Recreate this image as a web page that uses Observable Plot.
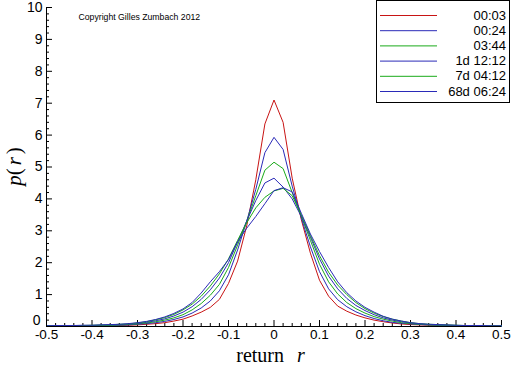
<!DOCTYPE html>
<html>
<head>
<meta charset="utf-8">
<script src="https://cdn.jsdelivr.net/npm/d3@7"></script>
<script src="https://cdn.jsdelivr.net/npm/@observablehq/plot@0.6"></script>
<style>
  html, body { margin: 0; padding: 0; background: #fff; }
  svg { display: block; }
</style>
</head>
<body>
<div id="chart"></div>
<script>
// ---- data ----
const returns = [-0.50,-0.48,-0.46,-0.44,-0.42,-0.40,-0.38,-0.36,-0.34,-0.32,-0.30,-0.28,-0.26,-0.24,-0.22,-0.20,-0.18,-0.16,-0.14,-0.12,-0.10,-0.08,-0.06,-0.04,-0.02,0.00,0.02,0.04,0.06,0.08,0.10,0.12,0.14,0.16,0.18,0.20,0.22,0.24,0.26,0.28,0.30,0.32,0.34,0.36,0.38,0.40,0.42,0.44,0.46,0.48,0.50];

const seriesNames = ["00:03", "00:24", "03:44", "1d 12:12", "7d 04:12", "68d 06:24"];
const seriesColors = ["#c81414", "#2a2ab8", "#1aaa1a", "#2a2ab8", "#1aaa1a", "#2a2ab8"];

const p0003 = [0.01,0.01,0.01,0.01,0.01,0.02,0.02,0.02,0.03,0.04,0.05,0.07,0.09,0.12,0.17,0.23,0.33,0.45,0.60,0.85,1.35,2.05,3.15,4.60,6.35,7.10,6.40,4.65,3.35,2.30,1.45,0.95,0.64,0.48,0.36,0.27,0.20,0.15,0.11,0.08,0.06,0.05,0.04,0.03,0.02,0.02,0.02,0.01,0.01,0.01,0.01];
const p0024 = [0.01,0.01,0.02,0.02,0.02,0.02,0.03,0.03,0.04,0.05,0.07,0.09,0.12,0.16,0.22,0.30,0.42,0.58,0.80,1.12,1.62,2.40,3.30,4.30,5.45,5.93,5.55,4.40,3.40,2.50,1.72,1.18,0.84,0.62,0.46,0.34,0.25,0.18,0.13,0.10,0.08,0.06,0.05,0.04,0.03,0.02,0.02,0.02,0.01,0.01,0.01];
const p0344 = [0.01,0.02,0.02,0.02,0.03,0.03,0.04,0.04,0.05,0.06,0.08,0.11,0.15,0.20,0.27,0.37,0.52,0.72,0.98,1.32,1.85,2.55,3.30,4.10,4.90,5.15,4.95,4.20,3.45,2.70,1.95,1.40,1.02,0.75,0.56,0.42,0.31,0.23,0.17,0.12,0.09,0.07,0.05,0.04,0.03,0.03,0.02,0.02,0.02,0.01,0.01];
const p1d1212 = [0.02,0.02,0.02,0.03,0.03,0.03,0.04,0.05,0.06,0.07,0.09,0.13,0.18,0.24,0.33,0.45,0.62,0.85,1.15,1.52,2.00,2.65,3.30,3.95,4.50,4.65,4.37,4.00,3.45,2.80,2.12,1.58,1.18,0.88,0.66,0.50,0.37,0.27,0.20,0.15,0.11,0.08,0.06,0.05,0.04,0.03,0.03,0.02,0.02,0.02,0.01];
const p7d0412 = [0.02,0.02,0.03,0.03,0.03,0.04,0.04,0.05,0.07,0.08,0.11,0.15,0.21,0.28,0.38,0.52,0.70,0.95,1.27,1.65,2.12,2.70,3.25,3.72,4.05,4.25,4.33,4.10,3.50,2.85,2.22,1.70,1.30,1.00,0.75,0.56,0.42,0.31,0.23,0.17,0.12,0.09,0.07,0.06,0.05,0.04,0.03,0.03,0.03,0.02,0.02];
const p68d0624 = [0.02,0.03,0.03,0.03,0.04,0.04,0.05,0.06,0.07,0.09,0.12,0.16,0.22,0.30,0.41,0.55,0.75,1.05,1.40,1.72,2.10,2.65,3.08,3.45,3.85,4.26,4.35,4.22,3.55,2.90,2.35,1.85,1.40,1.06,0.80,0.60,0.45,0.32,0.23,0.17,0.12,0.09,0.07,0.06,0.05,0.04,0.03,0.03,0.03,0.02,0.02];
const seriesValues = [p0003, p0024, p0344, p1d1212, p7d0412, p68d0624];

const xTicks = [-0.5,-0.4,-0.3,-0.2,-0.1,0,0.1,0.2,0.3,0.4,0.5];
const yTicks = [0,1,2,3,4,5,6,7,8,9,10];
const xDomain = [-0.5, 0.5];
const yDomain = [0, 10];
const xLabel = ["return", "r"];
const yLabel = ["p", "(", "r", ")"];
const copyright = "Copyright Gilles Zumbach 2012";

// ---- build ----
const W = 512, H = 366;
const mL = 46, mR = 11, mT = 7, mB = 40;
const fw = W - mL - mR, fh = H - mT - mB;

const xMinor = d3.range(0, 51).map(i => xDomain[0] + i * 0.02).filter(v => Math.abs(v * 10 - Math.round(v * 10)) > 1e-6);
const yMinor = d3.range(0, 51).map(i => i * 0.2).filter(v => Math.abs(v - Math.round(v)) > 1e-6);

const tables = seriesValues.map((vals, k) => returns.map((r, i) => ({r, p: vals[i], s: seriesNames[k]})));

const svg = Plot.plot({
  width: W, height: H,
  marginLeft: mL, marginRight: mR, marginTop: mT, marginBottom: mB,
  style: {background: "#fff", fontFamily: "'Liberation Sans', Arial, sans-serif"},
  x: {domain: xDomain},
  y: {domain: yDomain},
  marks: [
    Plot.axisX({ticks: xTicks, tickSize: 0, tickPadding: 3, fontSize: 13.5, label: null, tickFormat: d => String(d), fill: "#000"}),
    Plot.axisY({ticks: yTicks.slice(1), tickSize: 0, tickPadding: 4, fontSize: 14, label: null, tickFormat: d => String(d), fill: "#000"}),
    Plot.axisY({ticks: yTicks.slice(0, 1), tickSize: 0, tickPadding: 6, fontSize: 14, dy: -6, label: null, tickFormat: d => String(d), fill: "#000"}),
    // inward ticks
    Plot.ruleX(xTicks, {insetTop: fh - 6, stroke: "#000"}),
    Plot.ruleX(xMinor, {insetTop: fh - 3, stroke: "#000"}),
    Plot.ruleY(yTicks, {insetRight: fw - 6, stroke: "#000"}),
    Plot.ruleY(yMinor, {insetRight: fw - 3, stroke: "#000"}),
    ...tables.map((t, k) => Plot.line(t, {x: "r", y: "p", stroke: seriesColors[k], strokeWidth: 1})),
    Plot.ruleX([xDomain[0]], {stroke: "#000"}),
    Plot.ruleY([yDomain[0]], {stroke: "#000"}),
    Plot.text([copyright], {frameAnchor: "top-left", dx: 32, dy: 6, lineAnchor: "top", textAnchor: "start", fontSize: 8.7, fill: "#000"})
  ]
});

const s = d3.select(svg);
// x axis title
const xt = s.append("text")
  .attr("x", mL + fw / 2 - 3).attr("y", 362)
  .attr("text-anchor", "middle")
  .attr("font-family", "'Liberation Serif', 'Times New Roman', serif")
  .attr("font-size", 20).attr("fill", "#000");
xt.append("tspan").text(xLabel[0]);
xt.append("tspan").attr("dx", 13).attr("font-style", "italic").text(xLabel[1]);

// y axis title
const yt = s.append("text")
  .attr("transform", `translate(21,${mT + fh / 2}) rotate(-90)`)
  .attr("text-anchor", "middle")
  .attr("font-family", "'Liberation Serif', 'Times New Roman', serif")
  .attr("font-size", 21).attr("fill", "#000");
yt.append("tspan").attr("font-style", "italic").text(yLabel[0]);
yt.append("tspan").text(yLabel[1]);
yt.append("tspan").attr("dx", 3).attr("font-style", "italic").text(yLabel[2]);
yt.append("tspan").attr("dx", 3).text(yLabel[3]);

// legend
const lg = s.append("g");
lg.append("rect").attr("x", 376.5).attr("y", 0.5).attr("width", 133).attr("height", 102)
  .attr("fill", "#fff").attr("stroke", "#000");
seriesNames.forEach((name, i) => {
  const yy = 15 + i * 15.2;
  lg.append("line").attr("x1", 380).attr("x2", 437).attr("y1", yy + 0.5).attr("y2", yy + 0.5)
    .attr("stroke", seriesColors[i]).attr("stroke-width", 1);
  lg.append("text").attr("x", 506).attr("y", yy + 4.5).attr("text-anchor", "end")
    .attr("font-family", "'Liberation Sans', Arial, sans-serif").attr("font-size", 13)
    .attr("fill", "#000").text(name);
});

document.getElementById("chart").appendChild(svg);
</script>
</body>
</html>
